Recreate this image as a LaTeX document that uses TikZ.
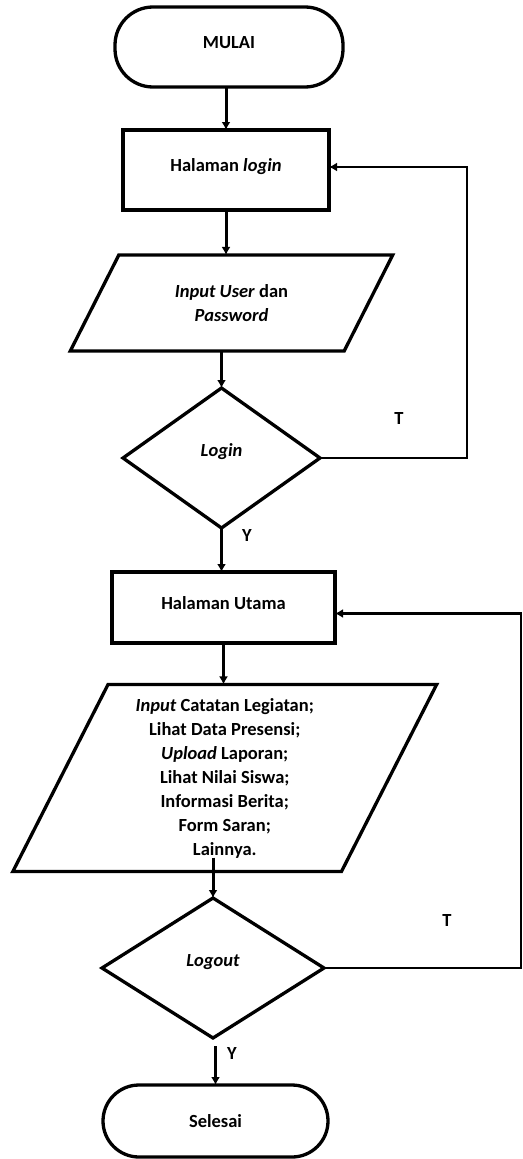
\documentclass[tikz,border=0pt]{standalone}
\usepackage{fontspec}
\setmainfont{Carlito}
\usetikzlibrary{shapes.geometric,arrows.meta,calc}
\begin{document}
\begin{tikzpicture}[x=1pt,y=-1pt,
  every node/.style={font=\fontsize{18.5}{24}\selectfont\bfseries, inner sep=0pt, outer sep=0pt},
  shp/.style={draw=black, line width=3.3pt, align=center},
  term/.style={shp, rectangle, rounded corners=38pt},
  procbox/.style={shp, rectangle, text height=13pt, text depth=10pt},
  iobox/.style={shp, trapezium, trapezium stretches=true},
  decbox/.style={shp, diamond, text height=13pt, text depth=17pt},
  conn/.style={line width=3pt, -{Latex[length=8pt,width=9pt]}},
  loopln/.style={line width=2.4pt, -{Latex[length=8pt,width=9pt]}},
  lbl/.style={font=\fontsize{18.5}{22}\selectfont\bfseries}
]
\useasboundingbox (0,0) rectangle (522,1159);

\node[term, minimum width=228pt, minimum height=80pt, text height=13pt, text depth=10pt] (start) at (229,47) {MULAI};
\node[procbox, minimum width=206pt, minimum height=80pt] (login) at (226,170) {Halaman \textit{login}};
\node[iobox, minimum width=323pt, minimum height=96pt,
      trapezium left angle=56.7, trapezium right angle=123.3] (inp1) at (231.5,303)
      {\fontsize{18.5}{26}\selectfont\textit{Input User} dan\\\textit{Password}};
\node[decbox, minimum width=197pt, minimum height=140pt] (dec1) at (221.5,458) {\textit{Login}};
\node[procbox, minimum width=223pt, minimum height=71pt] (utama) at (223.5,607.5) {Halaman Utama};
\node[iobox, minimum width=425pt, minimum height=187pt,
      trapezium left angle=65.56, trapezium right angle=114.44] (inp2) at (224.75,778)
      {\textit{Input} Catatan Legiatan;\\Lihat Data Presensi;\\\textit{Upload} Laporan;\\Lihat Nilai Siswa;\\Informasi Berita;\\Form Saran;\\Lainnya.};
\node[decbox, minimum width=222pt, minimum height=140pt] (dec2) at (213,968) {\textit{Logout}};
\node[term, minimum width=225pt, minimum height=72pt, rounded corners=36pt] (stop) at (215.5,1121) {Selesai};

\coordinate (loopA) at (467,458);
\coordinate (loopB) at (521,968);

\draw[conn] (login.north |- start.south) -- (login.north);
\draw[conn] (login.south) -- (login.south |- inp1.north);
\draw[conn] (dec1.north |- inp1.south) -- (dec1.north);
\draw[loopln] (dec1.east) -- (loopA) |- ($(login.east)+(0,-3)$);
\draw[conn] (dec1.south) -- (dec1.south |- utama.north);
\draw[conn] (utama.south) -- (utama.south |- inp2.north);
\draw[conn] ($(dec2.north |- inp2.south)+(0,-14)$) -- (dec2.north);
\draw[loopln] (dec2.east) -- (loopB) |- ($(utama.east)+(0,6)$);
\draw[line width=2.4pt, -{Latex[length=8pt,width=9pt]}, shorten <=8pt] (dec2.south -| stop.north) -- (stop.north);

\node[lbl] (t1) at (399,418) {T};
\node[lbl] (y1) at (247,535) {Y};
\node[lbl] (t2) at (447,920) {T};
\node[lbl] (y2) at (232,1053) {Y};
\end{tikzpicture}
\end{document}
